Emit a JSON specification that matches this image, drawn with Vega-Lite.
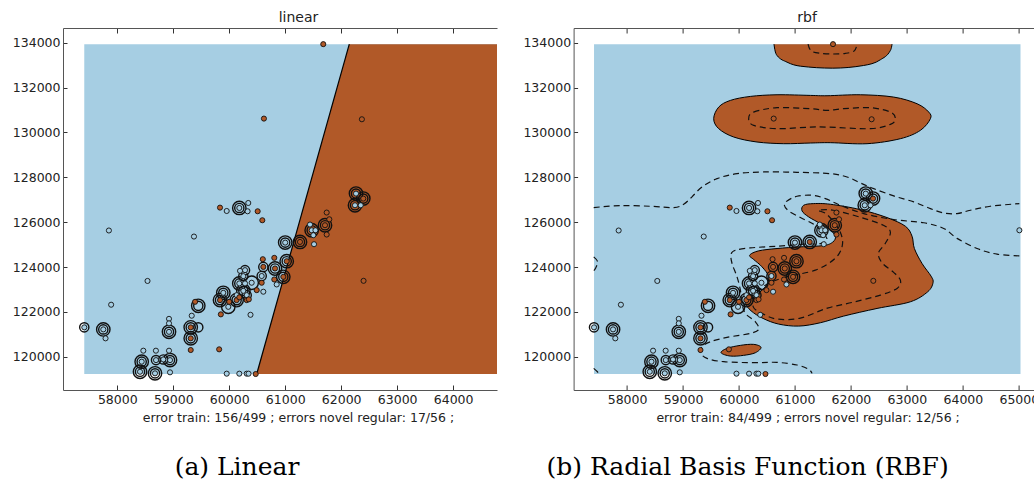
{
"$schema": "https://vega.github.io/schema/vega-lite/v6.json",
"padding": {"left": 12, "top": 10, "right": -5, "bottom": 0},
"spacing": 25.6,
"config": {
  "view": {"stroke": null},
  "axis": {"labelFont": "DejaVu Sans", "labelFontSize": 12.5, "labelColor": "#222", "titleFont": "DejaVu Sans", "titleFontSize": 12.5, "titleFontWeight": "normal", "titleColor": "#222", "domainColor": "#555", "tickColor": "#333", "grid": false},
  "title": {"font": "DejaVu Serif", "fontSize": 25, "fontWeight": "normal", "color": "black"}
},
"datasets": {
  "one": [{"k": 1}],
  "pts": [
    {"x":57410,"y":121310,"c":"b"},{"x":57790,"y":120820,"c":"b"},{"x":57890,"y":122320,"c":"b"},{"x":57850,"y":125630,"c":"b"},
    {"x":58540,"y":123380,"c":"b"},{"x":59370,"y":125360,"c":"b"},{"x":58465,"y":120270,"c":"b"},{"x":58690,"y":120270,"c":"b"},
    {"x":58924,"y":120270,"c":"b"},{"x":58924,"y":121690,"c":"b"},{"x":58924,"y":121490,"c":"b"},{"x":59330,"y":121830,"c":"b"},
    {"x":60380,"y":121870,"c":"b"},{"x":59955,"y":119245,"c":"b"},{"x":60180,"y":119245,"c":"b"},{"x":60312,"y":119245,"c":"b"},
    {"x":60345,"y":119245,"c":"b"},{"x":58436,"y":119780,"c":"b"},{"x":58692,"y":119850,"c":"b"},{"x":58822,"y":119880,"c":"b"},
    {"x":58942,"y":119850,"c":"b"},{"x":58406,"y":119330,"c":"b"},{"x":58674,"y":119260,"c":"b"},{"x":58942,"y":119305,"c":"b"},
    {"x":58924,"y":121110,"c":"b"},{"x":57750,"y":121220,"c":"b"},{"x":59955,"y":126500,"c":"b"},{"x":60180,"y":126635,"c":"b"},
    {"x":60340,"y":126857,"c":"b"},{"x":60328,"y":126487,"c":"b"},{"x":61000,"y":125090,"c":"b"},{"x":61443,"y":125895,"c":"b"},
    {"x":61473,"y":125640,"c":"b"},{"x":61540,"y":125640,"c":"b"},{"x":61503,"y":125420,"c":"b"},{"x":61515,"y":125018,"c":"b"},
    {"x":62265,"y":127275,"c":"b"},{"x":62247,"y":126755,"c":"b"},{"x":62349,"y":126755,"c":"b"},{"x":60193,"y":123830,"c":"b"},
    {"x":60282,"y":123862,"c":"b"},{"x":60252,"y":123594,"c":"b"},{"x":60180,"y":123270,"c":"b"},{"x":60282,"y":123270,"c":"b"},
    {"x":60401,"y":123300,"c":"b"},{"x":60312,"y":122747,"c":"b"},{"x":60133,"y":122747,"c":"b"},{"x":59894,"y":122850,"c":"b"},
    {"x":60609,"y":122900,"c":"b"},{"x":60848,"y":123224,"c":"b"},{"x":60580,"y":123600,"c":"b"},{"x":59983,"y":122226,"c":"b"},
    {"x":60252,"y":122940,"c":"b"},{"x":65010,"y":125640,"c":"b"},
    {"x":61680,"y":133940,"c":"o"},{"x":60620,"y":130620,"c":"o"},{"x":62370,"y":130590,"c":"o"},{"x":59835,"y":126650,"c":"o"},
    {"x":60508,"y":126487,"c":"o"},{"x":60591,"y":126087,"c":"o"},{"x":61264,"y":125120,"c":"o"},{"x":61711,"y":125865,"c":"o"},
    {"x":61741,"y":126430,"c":"o"},{"x":61788,"y":126130,"c":"o"},{"x":61741,"y":125450,"c":"o"},{"x":62395,"y":127053,"c":"o"},
    {"x":62400,"y":123385,"c":"o"},{"x":60600,"y":124350,"c":"o"},{"x":60805,"y":124410,"c":"o"},{"x":61027,"y":124260,"c":"o"},
    {"x":60609,"y":124007,"c":"o"},{"x":60818,"y":123936,"c":"o"},{"x":60966,"y":123562,"c":"o"},{"x":60805,"y":123446,"c":"o"},
    {"x":60580,"y":123300,"c":"o"},{"x":60491,"y":122970,"c":"o"},{"x":59835,"y":122525,"c":"o"},{"x":60132,"y":122525,"c":"o"},
    {"x":60312,"y":122525,"c":"o"},{"x":60350,"y":122560,"c":"o"},{"x":59390,"y":122450,"c":"o"},{"x":59850,"y":121890,"c":"o"},
    {"x":59312,"y":121310,"c":"o"},{"x":59312,"y":120820,"c":"o"},{"x":59312,"y":120300,"c":"o"},{"x":59820,"y":120330,"c":"o"},
    {"x":60473,"y":119230,"c":"o"},{"x":60000,"y":122450,"c":"o"},{"x":60180,"y":122650,"c":"o"}
  ],
  "rings": [
    {"x":57410,"y":121310,"g":"a"},{"x":57750,"y":121220,"g":"a"},{"x":57750,"y":121220,"g":"b"},{"x":58924,"y":121110,"g":"a"},
    {"x":58924,"y":121110,"g":"b"},{"x":58436,"y":119780,"g":"a"},{"x":58436,"y":119780,"g":"b"},{"x":58406,"y":119330,"g":"a"},
    {"x":58406,"y":119330,"g":"b"},{"x":58674,"y":119260,"g":"a"},{"x":58674,"y":119260,"g":"b"},{"x":58822,"y":119880,"g":"a"},
    {"x":58942,"y":119850,"g":"a"},{"x":58942,"y":119850,"g":"b"},{"x":58692,"y":119850,"g":"a"},{"x":59312,"y":121310,"g":"a"},
    {"x":59312,"y":121310,"g":"b"},{"x":59447,"y":121310,"g":"a"},{"x":59312,"y":120820,"g":"a"},{"x":59312,"y":120820,"g":"b"},
    {"x":59447,"y":122271,"g":"a"},{"x":59447,"y":122271,"g":"b"},{"x":59835,"y":122525,"g":"a"},{"x":59835,"y":122525,"g":"b"},
    {"x":59894,"y":122850,"g":"a"},{"x":59894,"y":122850,"g":"b"},{"x":59983,"y":122226,"g":"b"},{"x":60132,"y":122525,"g":"a"},
    {"x":60132,"y":122525,"g":"b"},{"x":60252,"y":122940,"g":"a"},{"x":60252,"y":122940,"g":"b"},{"x":60180,"y":123270,"g":"a"},
    {"x":60180,"y":123270,"g":"b"},{"x":60252,"y":123594,"g":"a"},{"x":60282,"y":123862,"g":"a"},{"x":60401,"y":123300,"g":"b"},
    {"x":60609,"y":124007,"g":"a"},{"x":60818,"y":123936,"g":"a"},{"x":60818,"y":123936,"g":"b"},{"x":60966,"y":123562,"g":"a"},
    {"x":60966,"y":123562,"g":"b"},{"x":61027,"y":124260,"g":"a"},{"x":61027,"y":124260,"g":"b"},{"x":61000,"y":125090,"g":"a"},
    {"x":61000,"y":125090,"g":"b"},{"x":61264,"y":125120,"g":"a"},{"x":61264,"y":125120,"g":"b"},{"x":61473,"y":125640,"g":"a"},
    {"x":61473,"y":125640,"g":"b"},{"x":61711,"y":125865,"g":"a"},{"x":61711,"y":125865,"g":"b"},{"x":62265,"y":127275,"g":"a"},
    {"x":62265,"y":127275,"g":"b"},{"x":62395,"y":127053,"g":"a"},{"x":62395,"y":127053,"g":"b"},{"x":62247,"y":126755,"g":"a"},
    {"x":62247,"y":126755,"g":"b"},{"x":60180,"y":126635,"g":"a"},{"x":60180,"y":126635,"g":"b"},{"x":60312,"y":122747,"g":"a"},
    {"x":60580,"y":123600,"g":"a"}
  ],
  "lin": [
    {"i":1,"x":60491,"y":119230},{"i":2,"x":62145,"y":133940},{"i":3,"x":65030,"y":133940},{"i":4,"x":65030,"y":119230}
  ],
  "linb": [
    {"i":1,"x":60491,"y":119230},{"i":2,"x":62145,"y":133940}
  ],
  "topb": [
    {"x":60625,"y":133940},{"x":60640,"y":133700},{"x":60680,"y":133434},{"x":60859,"y":133136},{"x":61097,"y":132958},
    {"x":61674,"y":132869},{"x":62227,"y":132989},{"x":62526,"y":133243},{"x":62705,"y":133657},{"x":62725,"y":133800},{"x":62735,"y":133940}
  ],
  "blobs": [
    {"s":"big","i":1,"x":60191,"y":124529},{"s":"big","i":2,"x":60352,"y":124722},{"s":"big","i":3,"x":60680,"y":124826},
    {"s":"big","i":4,"x":61097,"y":124900},{"s":"big","i":5,"x":61514,"y":124959},{"s":"big","i":6,"x":61680,"y":125122},
    {"s":"big","i":7,"x":61722,"y":125375},{"s":"big","i":8,"x":61621,"y":125672},{"s":"big","i":9,"x":61454,"y":125939},
    {"s":"big","i":10,"x":61245,"y":126236},{"s":"big","i":11,"x":61127,"y":126503},{"s":"big","i":12,"x":61156,"y":126755},
    {"s":"big","i":13,"x":61335,"y":126829},{"s":"big","i":14,"x":61633,"y":126800},{"s":"big","i":15,"x":62169,"y":126562},
    {"s":"big","i":16,"x":62645,"y":126206},{"s":"big","i":17,"x":62973,"y":125820},{"s":"big","i":18,"x":63092,"y":125375},
    {"s":"big","i":19,"x":63134,"y":124826},{"s":"big","i":20,"x":63271,"y":124158},{"s":"big","i":21,"x":63432,"y":123594},
    {"s":"big","i":22,"x":63467,"y":123297},{"s":"big","i":23,"x":63372,"y":122896},{"s":"big","i":24,"x":63062,"y":122451},
    {"s":"big","i":25,"x":62467,"y":122154},{"s":"big","i":26,"x":61871,"y":121813},{"s":"big","i":27,"x":61454,"y":121516},
    {"s":"big","i":28,"x":61067,"y":121367},{"s":"big","i":29,"x":60710,"y":121456},{"s":"big","i":30,"x":60430,"y":121709},
    {"s":"big","i":31,"x":60215,"y":122050},{"s":"big","i":32,"x":60120,"y":122406},{"s":"big","i":33,"x":60263,"y":122673},
    {"s":"big","i":34,"x":60471,"y":123119},{"s":"big","i":35,"x":60531,"y":123564},{"s":"big","i":36,"x":60412,"y":124009},
    {"s":"big","i":37,"x":60263,"y":124336},
    {"s":"mid","i":1,"x":59548,"y":130615},{"s":"mid","i":2,"x":59638,"y":131134},{"s":"mid","i":3,"x":59846,"y":131431},
    {"s":"mid","i":4,"x":60203,"y":131609},{"s":"mid","i":5,"x":60680,"y":131683},{"s":"mid","i":6,"x":61275,"y":131654},
    {"s":"mid","i":7,"x":61573,"y":131639},{"s":"mid","i":8,"x":62169,"y":131683},{"s":"mid","i":9,"x":62764,"y":131580},
    {"s":"mid","i":10,"x":63181,"y":131283},{"s":"mid","i":11,"x":63390,"y":130912},{"s":"mid","i":12,"x":63420,"y":130615},
    {"s":"mid","i":13,"x":63241,"y":130095},{"s":"mid","i":14,"x":62884,"y":129724},{"s":"mid","i":15,"x":62288,"y":129501},
    {"s":"mid","i":16,"x":61633,"y":129546},{"s":"mid","i":17,"x":61275,"y":129531},{"s":"mid","i":18,"x":60799,"y":129501},
    {"s":"mid","i":19,"x":60322,"y":129576},{"s":"mid","i":20,"x":59906,"y":129798},{"s":"mid","i":21,"x":59638,"y":130170},
    {"s":"small","i":1,"x":59680,"y":120178},{"s":"small","i":2,"x":59787,"y":120374},{"s":"small","i":3,"x":60024,"y":120507},
    {"s":"small","i":4,"x":60262,"y":120552},{"s":"small","i":5,"x":60394,"y":120418},{"s":"small","i":6,"x":60292,"y":120178},
    {"s":"small","i":7,"x":60083,"y":120062},{"s":"small","i":8,"x":59846,"y":120031}
  ],
  "dclosed": [
    {"k":"C","i":1,"x":61418,"y":126532},{"k":"C","i":2,"x":61686,"y":126532},{"k":"C","i":3,"x":62169,"y":126220},
    {"k":"C","i":4,"x":62580,"y":125864},{"k":"C","i":5,"x":62705,"y":125552},{"k":"C","i":6,"x":62616,"y":125062},
    {"k":"C","i":7,"x":62491,"y":124617},{"k":"C","i":8,"x":62562,"y":124172},{"k":"C","i":9,"x":62759,"y":123771},
    {"k":"C","i":10,"x":62884,"y":123415},{"k":"C","i":11,"x":62830,"y":123058},{"k":"C","i":12,"x":62527,"y":122747},
    {"k":"C","i":13,"x":62044,"y":122435},{"k":"C","i":14,"x":61580,"y":122168},{"k":"C","i":15,"x":61097,"y":121723},
    {"k":"C","i":16,"x":60686,"y":121678},{"k":"C","i":17,"x":60436,"y":121901},{"k":"C","i":18,"x":60257,"y":122212},
    {"k":"C","i":19,"x":60293,"y":122747},{"k":"C","i":20,"x":60471,"y":123193},{"k":"C","i":21,"x":60829,"y":123549},
    {"k":"C","i":22,"x":61365,"y":123861},{"k":"C","i":23,"x":61722,"y":124395},{"k":"C","i":24,"x":61847,"y":124973},
    {"k":"C","i":25,"x":61811,"y":125552},{"k":"C","i":26,"x":61668,"y":126087},{"k":"C","i":27,"x":61543,"y":126399},
    {"k":"M","i":1,"x":60173,"y":130616},{"k":"M","i":2,"x":60262,"y":130910},{"k":"M","i":3,"x":60680,"y":131106},
    {"k":"M","i":4,"x":61275,"y":131061},{"k":"M","i":5,"x":61574,"y":130985},{"k":"M","i":6,"x":61870,"y":131061},
    {"k":"M","i":7,"x":62347,"y":131106},{"k":"M","i":8,"x":62705,"y":130910},{"k":"M","i":9,"x":62794,"y":130616},
    {"k":"M","i":10,"x":62705,"y":130362},{"k":"M","i":11,"x":62347,"y":130170},{"k":"M","i":12,"x":61574,"y":130242},
    {"k":"M","i":13,"x":61275,"y":130242},{"k":"M","i":14,"x":60680,"y":130170},{"k":"M","i":15,"x":60262,"y":130317}
  ],
  "dopen": [
    {"k":"A","i":1,"x":57404,"y":126651},{"k":"A","i":2,"x":57880,"y":126740},{"k":"A","i":3,"x":58417,"y":126711},
    {"k":"A","i":4,"x":58833,"y":126651},{"k":"A","i":5,"x":59012,"y":126800},{"k":"A","i":6,"x":59161,"y":127132},
    {"k":"A","i":7,"x":59340,"y":127572},{"k":"A","i":8,"x":59608,"y":127943},{"k":"A","i":9,"x":59965,"y":128165},
    {"k":"A","i":10,"x":60442,"y":128240},{"k":"A","i":11,"x":61037,"y":128225},{"k":"A","i":12,"x":61633,"y":128165},
    {"k":"A","i":13,"x":61931,"y":128017},{"k":"A","i":14,"x":62169,"y":127750},{"k":"A","i":15,"x":62407,"y":127497},
    {"k":"A","i":16,"x":62764,"y":127171},{"k":"A","i":17,"x":63122,"y":126904},{"k":"A","i":18,"x":63420,"y":126607},
    {"k":"A","i":19,"x":63658,"y":126414},{"k":"A","i":20,"x":63896,"y":126384},{"k":"A","i":21,"x":64134,"y":126533},
    {"k":"A","i":22,"x":64491,"y":126711},{"k":"A","i":23,"x":65009,"y":126829},
    {"k":"B","i":1,"x":65009,"y":124499},{"k":"B","i":2,"x":64611,"y":124573},{"k":"B","i":3,"x":64254,"y":124826},
    {"k":"B","i":4,"x":63896,"y":125278},{"k":"B","i":5,"x":63658,"y":125721},{"k":"B","i":6,"x":63301,"y":125974},
    {"k":"B","i":7,"x":62764,"y":126117},{"k":"B","i":8,"x":62228,"y":126384},{"k":"B","i":9,"x":61811,"y":126755},
    {"k":"B","i":10,"x":61543,"y":127052},{"k":"B","i":11,"x":61305,"y":127200},{"k":"B","i":12,"x":61037,"y":127156},
    {"k":"B","i":13,"x":60859,"y":126948},{"k":"B","i":14,"x":60811,"y":126755},{"k":"B","i":15,"x":60888,"y":126503},
    {"k":"B","i":16,"x":61097,"y":126206},{"k":"B","i":17,"x":61335,"y":125909},{"k":"B","i":18,"x":61484,"y":125568},
    {"k":"B","i":19,"x":61573,"y":125227},{"k":"B","i":20,"x":61454,"y":125048},{"k":"B","i":21,"x":61156,"y":125018},
    {"k":"B","i":22,"x":60680,"y":124929},{"k":"B","i":23,"x":60203,"y":124855},{"k":"B","i":24,"x":59935,"y":124751},
    {"k":"B","i":25,"x":59858,"y":124573},{"k":"B","i":26,"x":59876,"y":124158},{"k":"B","i":27,"x":59965,"y":123564},
    {"k":"B","i":28,"x":60025,"y":122970},{"k":"B","i":29,"x":60054,"y":122377},{"k":"B","i":30,"x":60114,"y":121931},
    {"k":"B","i":31,"x":60293,"y":121560},{"k":"B","i":32,"x":60352,"y":121219},{"k":"B","i":33,"x":60203,"y":121041},
    {"k":"B","i":34,"x":59786,"y":120863},{"k":"B","i":35,"x":59489,"y":120670},{"k":"B","i":36,"x":59340,"y":120447},
    {"k":"B","i":37,"x":59310,"y":120180},{"k":"B","i":38,"x":59429,"y":119928},{"k":"B","i":39,"x":59727,"y":119779},
    {"k":"B","i":40,"x":60263,"y":119735},{"k":"B","i":41,"x":60680,"y":119749},{"k":"B","i":42,"x":61037,"y":119631},
    {"k":"B","i":43,"x":61245,"y":119438},{"k":"B","i":44,"x":61305,"y":119260},
    {"k":"T","i":1,"x":61234,"y":133940},{"k":"T","i":2,"x":61290,"y":133640},{"k":"T","i":3,"x":61450,"y":133530},
    {"k":"T","i":4,"x":61680,"y":133500},{"k":"T","i":5,"x":61900,"y":133530},{"k":"T","i":6,"x":62060,"y":133640},
    {"k":"T","i":7,"x":62109,"y":133940},
    {"k":"G","i":1,"x":57404,"y":124455},{"k":"G","i":2,"x":57475,"y":124232},{"k":"G","i":3,"x":57434,"y":123935},
    {"k":"G","i":4,"x":57404,"y":123831},
    {"k":"F","i":1,"x":57404,"y":119482},{"k":"F","i":2,"x":57470,"y":119330},{"k":"F","i":3,"x":57490,"y":119240}
  ]
},
"hconcat": [
  {
    "width": 434, "height": 362,
    "title": {"text": "(a) Linear", "orient": "bottom", "anchor": "middle", "dx": -43, "offset": 31},
    "resolve": {"axis": {"x": "independent", "y": "independent"}},
    "layer": [
      {"data": {"name": "one"},
       "mark": {"type": "rect", "color": "#a6cee3", "opacity": 1, "clip": true},
       "encoding": {
         "x": {"datum": 57410, "type": "quantitative", "scale": {"domain": [57030, 64784], "nice": false, "zero": false},
               "axis": {"orient": "bottom", "values": [58000,59000,60000,61000,62000,63000,64000], "format": "d", "tickSize": -5, "labelPadding": 8, "title": "error train: 156/499 ; errors novel regular: 17/56 ;", "titleX": 235, "titlePadding": 6}},
         "x2": {"datum": 65030},
         "y": {"datum": 119230, "type": "quantitative", "scale": {"domain": [118517, 134660], "nice": false, "zero": false},
               "axis": {"orient": "left", "values": [120000,122000,124000,126000,128000,130000,132000,134000], "format": "d", "tickSize": -4, "labelPadding": 7, "title": null}},
         "y2": {"datum": 133940}}},
      {"data": {"name": "lin"},
       "mark": {"type": "line", "interpolate": "linear-closed", "fill": "#b15928", "strokeWidth": 0, "clip": true},
       "encoding": {
         "x": {"field": "x", "type": "quantitative", "scale": {"domain": [57030, 64784], "nice": false, "zero": false}, "axis": null},
         "y": {"field": "y", "type": "quantitative", "scale": {"domain": [118517, 134660], "nice": false, "zero": false}, "axis": null},
         "order": {"field": "i"}}},
      {"data": {"name": "linb"},
       "mark": {"type": "line", "color": "black", "strokeWidth": 1.2, "clip": true},
       "encoding": {
         "x": {"field": "x", "type": "quantitative", "scale": {"domain": [57030, 64784], "nice": false, "zero": false},
               "axis": {"orient": "top", "values": [58000,59000,60000,61000,62000,63000,64000], "labels": false, "tickSize": -5, "title": "linear", "titleX": 235, "titlePadding": 3, "titleFontSize": 14}},
         "y": {"field": "y", "type": "quantitative", "scale": {"domain": [118517, 134660], "nice": false, "zero": false}, "axis": null},
         "order": {"field": "i"}}},
      {"data": {"name": "rings"},
       "mark": {"type": "point", "filled": false, "stroke": "#111", "strokeWidth": 1.4, "opacity": 1, "clip": true},
       "encoding": {
         "x": {"field": "x", "type": "quantitative", "scale": {"domain": [57030, 64784], "nice": false, "zero": false}, "axis": null},
         "y": {"field": "y", "type": "quantitative", "scale": {"domain": [118517, 134660], "nice": false, "zero": false}, "axis": null},
         "size": {"field": "g", "type": "nominal", "scale": {"domain": ["a", "b"], "range": [85, 180]}, "legend": null}}},
      {"data": {"name": "pts"},
       "mark": {"type": "point", "filled": true, "stroke": "#111", "strokeWidth": 0.9, "size": 26, "opacity": 1, "clip": true},
       "encoding": {
         "x": {"field": "x", "type": "quantitative", "scale": {"domain": [57030, 64784], "nice": false, "zero": false}, "axis": null},
         "y": {"field": "y", "type": "quantitative", "scale": {"domain": [118517, 134660], "nice": false, "zero": false}, "axis": null},
         "fill": {"field": "c", "type": "nominal", "scale": {"domain": ["b", "o"], "range": ["#a6cee3", "#b15928"]}, "legend": null}}}
    ]
  },
  {
    "width": 460, "height": 362,
    "title": {"text": "(b) Radial Basis Function (RBF)", "orient": "bottom", "anchor": "middle", "dx": -56, "offset": 31},
    "resolve": {"axis": {"x": "independent", "y": "independent"}},
    "layer": [
      {"data": {"name": "one"},
       "mark": {"type": "rect", "color": "#a6cee3", "opacity": 1, "clip": true},
       "encoding": {
         "x": {"datum": 57410, "type": "quantitative", "scale": {"domain": [57045, 65264], "nice": false, "zero": false},
               "axis": {"orient": "bottom", "values": [58000,59000,60000,61000,62000,63000,64000,65000], "format": "d", "tickSize": -5, "labelPadding": 8, "title": "error train: 84/499 ; errors novel regular: 12/56 ;", "titleX": 234, "titlePadding": 6}},
         "x2": {"datum": 65030},
         "y": {"datum": 119230, "type": "quantitative", "scale": {"domain": [118517, 134660], "nice": false, "zero": false},
               "axis": {"orient": "left", "values": [120000,122000,124000,126000,128000,130000,132000,134000], "format": "d", "tickSize": -4, "labelPadding": 7, "title": null}},
         "y2": {"datum": 133940}}},
      {"data": {"name": "topb"},
       "mark": {"type": "area", "interpolate": "monotone", "color": "#b15928", "opacity": 1},
       "encoding": {
         "x": {"field": "x", "type": "quantitative", "scale": {"domain": [57045, 65264], "nice": false, "zero": false}, "axis": null},
         "y": {"field": "y", "type": "quantitative", "scale": {"domain": [118517, 134660], "nice": false, "zero": false}, "axis": null},
         "y2": {"datum": 133940}}},
      {"data": {"name": "topb"},
       "mark": {"type": "line", "interpolate": "monotone", "color": "black", "strokeWidth": 1},
       "encoding": {
         "x": {"field": "x", "type": "quantitative", "scale": {"domain": [57045, 65264], "nice": false, "zero": false},
               "axis": {"orient": "top", "values": [58000,59000,60000,61000,62000,63000,64000,65000], "labels": false, "tickSize": -5, "title": "rbf", "titleX": 233, "titlePadding": 3, "titleFontSize": 14}},
         "y": {"field": "y", "type": "quantitative", "scale": {"domain": [118517, 134660], "nice": false, "zero": false}, "axis": null}}},
      {"data": {"name": "blobs"},
       "mark": {"type": "line", "interpolate": "cardinal-closed", "fill": "#b15928", "stroke": "black", "strokeWidth": 1},
       "encoding": {
         "x": {"field": "x", "type": "quantitative", "scale": {"domain": [57045, 65264], "nice": false, "zero": false}, "axis": null},
         "y": {"field": "y", "type": "quantitative", "scale": {"domain": [118517, 134660], "nice": false, "zero": false}, "axis": null},
         "detail": {"field": "s"},
         "order": {"field": "i"}}},
      {"data": {"name": "dclosed"},
       "mark": {"type": "line", "interpolate": "cardinal-closed", "color": "#111", "strokeWidth": 1.2, "strokeDash": [6, 4]},
       "encoding": {
         "x": {"field": "x", "type": "quantitative", "scale": {"domain": [57045, 65264], "nice": false, "zero": false}, "axis": null},
         "y": {"field": "y", "type": "quantitative", "scale": {"domain": [118517, 134660], "nice": false, "zero": false}, "axis": null},
         "detail": {"field": "k"},
         "order": {"field": "i"}}},
      {"data": {"name": "dopen"},
       "mark": {"type": "line", "interpolate": "cardinal", "color": "#111", "strokeWidth": 1.2, "strokeDash": [6, 4]},
       "encoding": {
         "x": {"field": "x", "type": "quantitative", "scale": {"domain": [57045, 65264], "nice": false, "zero": false}, "axis": null},
         "y": {"field": "y", "type": "quantitative", "scale": {"domain": [118517, 134660], "nice": false, "zero": false}, "axis": null},
         "detail": {"field": "k"},
         "order": {"field": "i"}}},
      {"data": {"name": "rings"},
       "mark": {"type": "point", "filled": false, "stroke": "#111", "strokeWidth": 1.4, "opacity": 1},
       "encoding": {
         "x": {"field": "x", "type": "quantitative", "scale": {"domain": [57045, 65264], "nice": false, "zero": false}, "axis": null},
         "y": {"field": "y", "type": "quantitative", "scale": {"domain": [118517, 134660], "nice": false, "zero": false}, "axis": null},
         "size": {"field": "g", "type": "nominal", "scale": {"domain": ["a", "b"], "range": [85, 180]}, "legend": null}}},
      {"data": {"name": "pts"},
       "mark": {"type": "point", "filled": true, "stroke": "#111", "strokeWidth": 0.9, "size": 26, "opacity": 1},
       "encoding": {
         "x": {"field": "x", "type": "quantitative", "scale": {"domain": [57045, 65264], "nice": false, "zero": false}, "axis": null},
         "y": {"field": "y", "type": "quantitative", "scale": {"domain": [118517, 134660], "nice": false, "zero": false}, "axis": null},
         "fill": {"field": "c", "type": "nominal", "scale": {"domain": ["b", "o"], "range": ["#a6cee3", "#b15928"]}, "legend": null}}}
    ]
  }
]
}
